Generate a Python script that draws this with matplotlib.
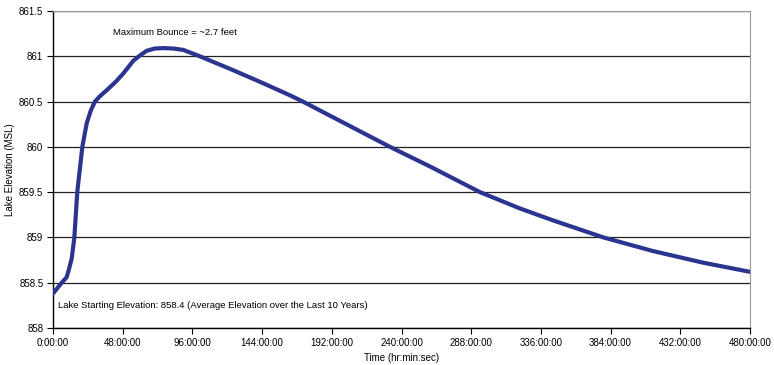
import matplotlib
matplotlib.use('Agg')
import matplotlib.pyplot as plt
from matplotlib.ticker import MultipleLocator, FuncFormatter

plt.rcParams['font.family'] = ['Liberation Sans', 'DejaVu Sans']

# lake elevation over time after the inflow event (hours, feet MSL)
hours = [0, 2, 6, 9.4, 11, 12.9, 14.7, 16.7, 20.2, 23.2, 26, 28.9, 32.4,
         38, 43.9, 48.4, 55.3, 60, 64.5, 70, 76, 83, 89.7, 101, 122, 145,
         163, 172, 202, 232, 260, 294, 321.5, 344, 379, 413, 448, 480]
elevation = [858.38, 858.42, 858.5, 858.56, 858.65, 858.77, 859.0, 859.5,
             860.0, 860.26, 860.4, 860.5, 860.56, 860.64, 860.73, 860.81,
             860.95, 861.01, 861.06, 861.085, 861.09, 861.085, 861.07,
             861.0, 860.86, 860.7, 860.57, 860.5, 860.25, 860.0, 859.78,
             859.5, 859.32, 859.19, 859.0, 858.85, 858.72, 858.62]

peak_note = 'Maximum Bounce = ~2.7 feet'
start_note = 'Lake Starting Elevation: 858.4 (Average Elevation over the Last 10 Years)'

fig = plt.figure(figsize=(7.74, 3.65), dpi=100)
ax = fig.add_axes([0.0685, 0.1014, 0.9005, 0.8686])

ax.plot(hours, elevation, color='#2b3590', lw=3, solid_joinstyle='round',
        solid_capstyle='round', zorder=3)

ax.set_xlim(0, 480)
ax.set_ylim(858, 861.5)
ax.xaxis.set_major_locator(MultipleLocator(48))
ax.yaxis.set_major_locator(MultipleLocator(0.5))
ax.xaxis.set_major_formatter(FuncFormatter(lambda v, p: '%d:00:00' % v))
ax.yaxis.set_major_formatter(FuncFormatter(lambda v, p: '%g' % v))
ax.tick_params(labelsize=7, length=4, width=0.8, direction='out', pad=3)

ax.grid(axis='y', color='#222222', lw=0.9)
for side in ['top', 'right']:
    ax.spines[side].set_color('#999999')
for side in ['left', 'bottom']:
    ax.spines[side].set_color('black')
    ax.spines[side].set_linewidth(1.0)

ax.set_xlabel('Time (hr:min:sec)', fontsize=7, labelpad=4)
ax.set_ylabel('Lake Elevation (MSL)', fontsize=7, labelpad=3)

ax.text(41, 861.26, peak_note, fontsize=6.8, va='center')
ax.text(3.5, 858.25, start_note, fontsize=6.8, va='center')

fig.savefig('out.png', dpi=100)
